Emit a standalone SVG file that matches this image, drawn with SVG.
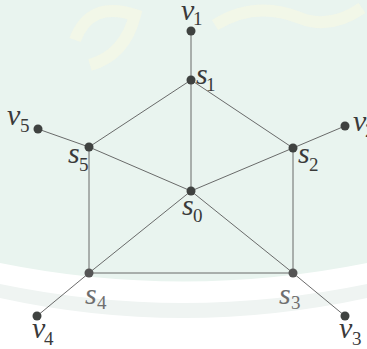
<svg xmlns="http://www.w3.org/2000/svg" width="367" height="349" viewBox="0 0 367 349">
<defs>
<style>
.e{stroke:#5a5a5a;stroke-width:0.9;fill:none}
.n{fill:#3f4240}
.l{font-family:'Liberation Serif','DejaVu Serif',serif;font-style:italic;font-size:30px}
.s{font-family:'Liberation Serif','DejaVu Serif',serif;font-size:19px}
</style>
</defs>
<rect width="367" height="349" fill="#e9f4ef"/>
<path d="M0,263 Q183,300 367,263 L367,349 L0,349 Z" fill="#ffffff"/>
<path d="M0,284 Q183,322 367,284 L367,298 Q183,338 0,298 Z" fill="#eff4f2"/>
<path d="M75,40 Q90,0 135,15 Q125,55 90,65" fill="none" stroke="#f8f8e2" stroke-width="12" opacity="0.6"/>
<path d="M215,25 Q255,0 300,18 Q330,30 362,8" fill="none" stroke="#f8f8e2" stroke-width="12" opacity="0.6"/>
<g id="edges">
<line class="e" x1="191" y1="31" x2="191" y2="80"/>
<line class="e" x1="191" y1="80" x2="89" y2="147"/>
<line class="e" x1="191" y1="80" x2="293" y2="148"/>
<line class="e" x1="191" y1="80" x2="191" y2="191"/>
<line class="e" x1="38" y1="129" x2="89" y2="147"/>
<line class="e" x1="345" y1="126" x2="293" y2="148"/>
<line class="e" x1="89" y1="147" x2="191" y2="191"/>
<line class="e" x1="293" y1="148" x2="191" y2="191"/>
<line class="e" x1="89" y1="147" x2="89" y2="273" stroke="#8a8a8a"/>
<line class="e" x1="293" y1="148" x2="293" y2="273" stroke="#8a8a8a"/>
<line class="e" x1="191" y1="191" x2="89" y2="273"/>
<line class="e" x1="191" y1="191" x2="293" y2="273"/>
<line class="e" x1="89" y1="273" x2="293" y2="273"/>
<line class="e" x1="89" y1="273" x2="37" y2="316"/>
<line class="e" x1="293" y1="273" x2="345" y2="316"/>
</g>
<g fill="#3a3a3a">
<g id="v1"><circle class="n" cx="191" cy="31" r="4.5" fill="#4a4740"/><text class="l" x="181" y="20">v</text><text class="s" x="193" y="25">1</text></g>
<g id="s1"><circle class="n" cx="191" cy="80" r="4.5"/><text class="l" x="196" y="84">s</text><text class="s" x="206" y="91">1</text></g>
<g id="v5"><circle class="n" cx="38" cy="129" r="4.5"/><text class="l" x="7" y="125">v</text><text class="s" x="20" y="132">5</text></g>
<g id="s5"><circle class="n" cx="89" cy="147" r="4.5"/><text class="l" x="68" y="163">s</text><text class="s" x="79" y="171">5</text></g>
<g id="v2"><circle class="n" cx="345" cy="126" r="4.5"/><text class="l" x="353" y="131">v</text><text class="s" x="365" y="137">2</text></g>
<g id="s2"><circle class="n" cx="293" cy="148" r="4.5"/><text class="l" x="298" y="163">s</text><text class="s" x="309" y="171">2</text></g>
<g id="s0"><circle class="n" cx="191" cy="191" r="4.5"/><text class="l" x="182" y="215">s</text><text class="s" x="193" y="222">0</text></g>
<g id="s4" fill="#6e6e6e"><circle class="n" cx="89" cy="273" r="4.5" style="fill:#555"/><text class="l" x="85" y="304">s</text><text class="s" x="97" y="309">4</text></g>
<g id="s3" fill="#6e6e6e"><circle class="n" cx="293" cy="273" r="4.5" style="fill:#555"/><text class="l" x="279" y="304">s</text><text class="s" x="291" y="309">3</text></g>
<g id="v4"><circle class="n" cx="37" cy="316" r="4.5"/><text class="l" x="32" y="338">v</text><text class="s" x="44" y="345">4</text></g>
<g id="v3"><circle class="n" cx="345" cy="316" r="4.5"/><text class="l" x="339" y="338">v</text><text class="s" x="352" y="345">3</text></g>
</g>
</svg>
